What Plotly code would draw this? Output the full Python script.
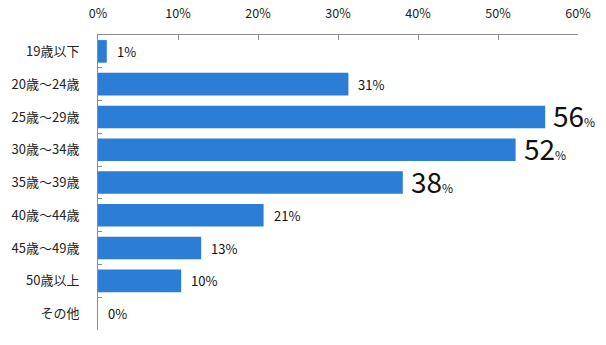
import plotly.graph_objects as go

categories = ["19歳以下", "20歳～24歳", "25歳～29歳", "30歳～34歳", "35歳～39歳",
              "40歳～44歳", "45歳～49歳", "50歳以上", "その他"]
values = [1.1, 31.3, 55.9, 52.2, 38.1, 20.7, 12.9, 10.4, 0]
labels = ["1", "31", "56", "52", "38", "21", "13", "10", "0"]
big = [False, False, True, True, True, False, False, False, False]
x_ticks = [0, 10, 20, 30, 40, 50, 60]
x_ticktext = ["0%", "10%", "20%", "30%", "40%", "50%", "60%"]

FONT = "Noto Sans CJK JP, Meiryo, sans-serif"
idx = list(range(len(categories)))

fig = go.Figure()
fig.add_trace(go.Bar(
    x=values, y=idx, orientation="h",
    marker=dict(color="#2B7DD5", line=dict(width=0)),
    width=0.69, hoverinfo="skip",
))
# invisible trace to activate boundary tick axis
fig.add_trace(go.Scatter(x=[0], y=[0], yaxis="y2", mode="markers",
                         marker=dict(opacity=0), hoverinfo="skip", showlegend=False))

for i, (v, lab, b) in enumerate(zip(values, labels, big)):
    if b:
        txt = f"<span style='font-size:28px'>{lab}</span><span style='font-size:12px'>%</span>"
        shift = 6
    else:
        txt = f"{lab}%"
        shift = 8
    fig.add_annotation(x=v, y=i, text=txt, showarrow=False, xanchor="left",
                       yanchor="middle", xshift=shift, yshift=0 if not b else 2,
                       font=dict(family=FONT, size=13, color="#111"))

fig.update_layout(
    width=606, height=345,
    margin=dict(l=98, r=28, t=35, b=15),
    paper_bgcolor="white", plot_bgcolor="white",
    showlegend=False,
    font=dict(family=FONT, size=13, color="#222"),
    xaxis=dict(side="top", range=[0, 60], tickvals=x_ticks, ticktext=x_ticktext,
               showgrid=False, zeroline=False, showline=True, linecolor="#8c8c8c",
               linewidth=1, ticks="inside", ticklen=5, tickcolor="#8c8c8c",
               automargin=False,
               tickfont=dict(size=12.5, family=FONT, color="#222"), ticklabelstandoff=11),
    yaxis=dict(range=[8.5, -0.5], tickvals=idx, ticktext=categories,
               showgrid=False, zeroline=False, showline=True, linecolor="#8c8c8c",
               linewidth=1, ticks="", ticklabelstandoff=15, automargin=False,
               tickfont=dict(size=13, family=FONT, color="#222")),
    yaxis2=dict(overlaying="y", range=[8.5, -0.5],
                tickvals=[i + 0.5 for i in range(-1, len(categories))],
                showticklabels=False, ticks="inside", ticklen=4, tickcolor="#8c8c8c",
                showgrid=False, zeroline=False, showline=False, side="left",
                automargin=False),
)

fig.write_html("out.html")
